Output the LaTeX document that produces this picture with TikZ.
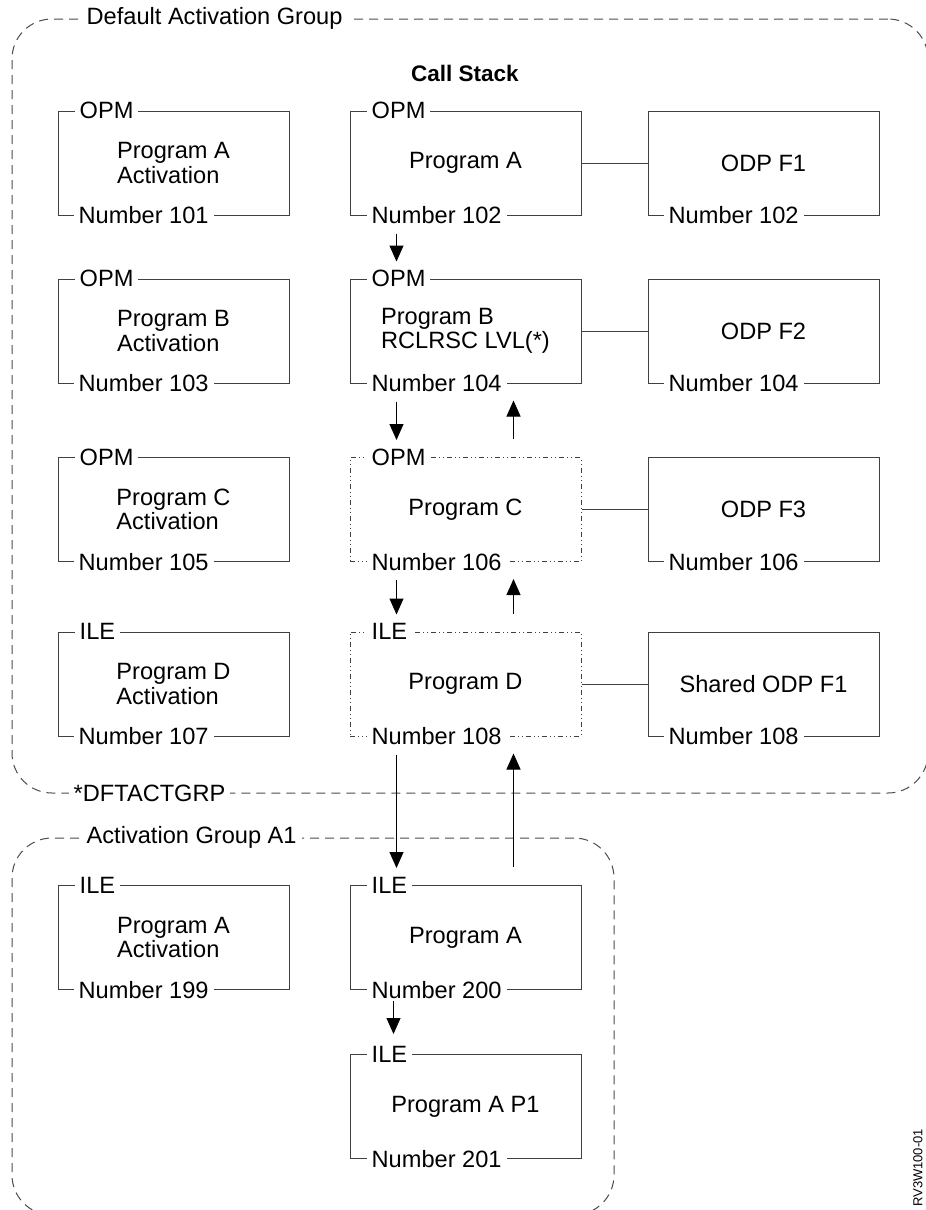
\documentclass[tikz,border=0pt]{standalone}
\usepackage{fontspec}
\setmainfont{Liberation Sans}
\usetikzlibrary{arrows.meta,positioning}

\begin{document}
\begin{tikzpicture}[x=1pt,y=-1pt,>={Triangle[length=16pt,width=14pt]},
  every node/.style={font=\fontsize{23.6}{24.5}\selectfont},
  box/.style={draw=black!75,line width=1pt,minimum width=231pt,minimum height=104pt,inner sep=0pt,align=left},
  dotbox/.style={box,dash pattern=on 5pt off 3pt on 1pt off 3pt on 1pt off 3pt},
  tag/.style={fill=white,inner xsep=5pt,inner ysep=1pt,anchor=west},
  group/.style={draw=black!70,line width=1pt,dash pattern=on 9pt off 6pt,rounded corners=40pt,inner sep=0pt},
  call/.style={->,line width=1pt,shorten <=18pt,shorten >=17pt},
  wire/.style={draw=black!75,line width=1pt}]
  \useasboundingbox (0,0) rectangle (926,1210);
  % activation groups
  \node[group,minimum width=916pt,minimum height=774pt] (dag) at (470,406) {};
  \node[group,minimum width=602pt,minimum height=377pt] (ag1) at (313,1026.5) {};
  \node[tag,inner xsep=7pt] (dag-t) at ([xshift=68pt]dag.north west) {Default Activation Group};
  \node[tag] (dag-b) at ([xshift=57pt]dag.south west) {*DFTACTGRP};
  \node[tag] (ag1-t) at ([xshift=70pt]ag1.north west) {Activation Group A1};
  \node[font=\fontsize{22.5}{24}\selectfont\bfseries] (stack) at (465,73) {Call Stack};
  % default group: activations, call stack, ODPs
  \foreach \r/\y/\kind/\p/\look/\ctext/\odp in {
      1/163/OPM/A/box/{Program A}/{ODP F1},
      2/331/OPM/B/box/{Program B\\RCLRSC LVL(*)}/{ODP F2},
      3/509.5/OPM/C/dotbox/{Program C}/{ODP F3},
      4/684/ILE/D/dotbox/{Program D}/{Shared ODP F1}}{
    \pgfmathtruncatemacro\na{99+2*\r}
    \pgfmathtruncatemacro\nb{100+2*\r}
    \node[box] (act\r) at (173.5,\y) {Program \p\\Activation};
    \node[tag] (act\r-k) at ([xshift=17pt]act\r.north west) {\kind};
    \node[tag] (act\r-n) at ([xshift=16pt]act\r.south west) {Number \na};
    \node[\look] (cs\r) at (465.5,\y) {\ctext};
    \node[tag] (cs\r-k) at ([xshift=17pt]cs\r.north west) {\kind};
    \node[tag] (cs\r-n) at ([xshift=17pt]cs\r.south west) {Number \nb};
    \node[box] (odp\r) at (763.5,\y) {\odp};
    \node[tag] (odp\r-n) at ([xshift=16pt]odp\r.south west) {Number \nb};
    \draw[wire] (cs\r) -- (odp\r);
  }
  % group A1
  \node[box] (act5) at (173.5,937.5) {Program A\\Activation};
  \node[tag] (act5-k) at ([xshift=17pt]act5.north west) {ILE};
  \node[tag] (act5-n) at ([xshift=16pt]act5.south west) {Number 199};
  \node[box] (cs5) at (465.5,937.5) {Program A};
  \node[tag] (cs5-k) at ([xshift=17pt]cs5.north west) {ILE};
  \node[tag] (cs5-n) at ([xshift=17pt]cs5.south west) {Number 200};
  \node[box] (cs6) at (465.5,1106.5) {Program A P1};
  \node[tag] (cs6-k) at ([xshift=17pt]cs6.north west) {ILE};
  \node[tag] (cs6-n) at ([xshift=17pt]cs6.south west) {Number 201};
  % calls and returns
  \foreach \r/\s in {1/2,2/3,3/4,4/5}
    \draw[call] ([xshift=47pt]cs\r.south west) -- ([xshift=47pt]cs\s.north west);
  \foreach \r/\s in {2/3,3/4,4/5}
    \draw[call] ([xshift=164pt]cs\s.north west) -- ([xshift=164pt]cs\r.south west);
  \draw[call,shorten <=11pt,shorten >=20pt] ([xshift=44pt]cs5.south west) -- ([xshift=44pt]cs6.north west);
  \node[rotate=90,anchor=west,inner sep=0pt,font=\fontsize{13}{13}\selectfont] (figid) at (918,1207) {RV3W100-01};
\end{tikzpicture}
\end{document}
